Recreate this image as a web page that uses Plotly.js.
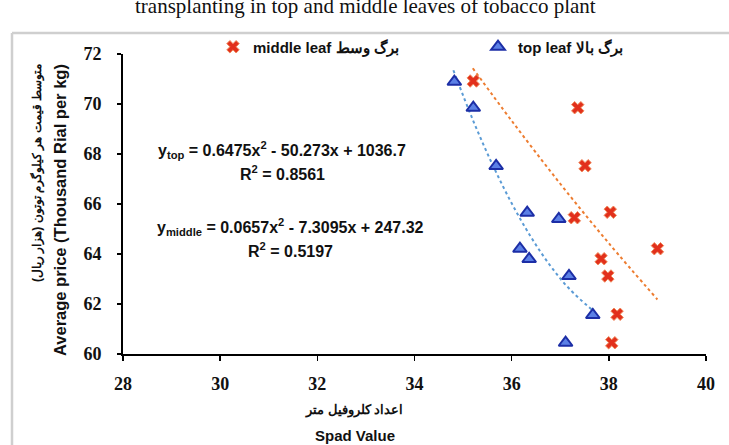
<!DOCTYPE html>
<html>
<head>
<meta charset="utf-8">
<script src="https://cdn.plot.ly/plotly-3.0.1.min.js"></script>
<style>html,body{margin:0;padding:0;background:#fff;}#chart{width:729px;height:445px;}</style>
</head>
<body>
<div id="chart"></div>
<script>
// Top leaf (triangles)
const topSpad  = [34.82, 35.21, 35.68, 36.32, 36.97, 36.17, 36.36, 37.18, 37.67, 37.11];
const topPrice = [70.89, 69.85, 67.52, 65.65, 65.40, 64.21, 63.80, 63.12, 61.56, 60.45];
// Middle leaf (x markers)
const midSpad  = [35.21, 37.36, 37.51, 38.03, 37.29, 39.00, 37.84, 37.98, 38.17, 38.06];
const midPrice = [70.92, 69.85, 67.53, 65.67, 65.45, 64.21, 63.81, 63.12, 61.59, 60.45];
// Polynomial trend lines
const trendTopX = [34.8, 35.2, 35.6, 36.0, 36.4, 36.8, 37.2, 37.67];
const trendTopY = [71.35, 69.37, 67.60, 66.03, 64.67, 63.52, 62.58, 61.74];
const trendMidX = [35.2, 36.0, 37.0, 38.0, 39.0];
const trendMidY = [71.43, 69.33, 66.81, 64.43, 62.18];

const xTicks = [28, 30, 32, 34, 36, 38, 40];
const yTicks = [60, 62, 64, 66, 68, 70, 72];

const legendMid = 'middle leaf برگ وسط';
const legendTop = 'top leaf برگ بالا';
const eqTop = 'y<sub>top</sub> = 0.6475x<sup>2</sup> - 50.273x + 1036.7';
const r2Top = 'R<sup>2</sup> = 0.8561';
const eqMid = 'y<sub>middle</sub> = 0.0657x<sup>2</sup> - 7.3095x + 247.32';
const r2Mid = 'R<sup>2</sup> = 0.5197';
const yTitleFa = 'متوسط قیمت هر کیلوگرم توتون (هزار ریال)';
const yTitleEn = 'Average price (Thousand Rial per kg)';
const xTitleFa = 'اعداد کلروفیل متر';
const xTitleEn = 'Spad Value';
const topTitle = 'transplanting in top and middle leaves of tobacco plant';

const W = 729, H = 445, L = 123, R = 23, T = 54, B = 91;
const pw = W - L - R, ph = H - T - B;
const px = v => (v - L) / pw;
const py = v => (H - B - v) / ph;

const sans = 'Liberation Sans, Arial, sans-serif';
const serif = 'Liberation Serif, Times New Roman, serif';
const txt = (text, x, y, size, extra) => Object.assign({
  text, x: px(x), y: py(y), xref: 'paper', yref: 'paper', xanchor: 'center', yanchor: 'middle',
  showarrow: false, font: {family: sans, size, color: '#111', weight: 'bold'}
}, extra || {});

const traces = [
  {x: trendMidX, y: trendMidY, mode: 'lines', line: {color: '#ed7d31', width: 2, dash: 'dot', shape: 'spline'}, showlegend: false, hoverinfo: 'skip'},
  {x: trendTopX, y: trendTopY, mode: 'lines', line: {color: '#5b9bd5', width: 2, dash: 'dot', shape: 'spline'}, showlegend: false, hoverinfo: 'skip'},
  {x: midSpad, y: midPrice, mode: 'markers', name: legendMid, legend: 'legend',
   marker: {symbol: 'x', size: 11, color: '#e2301c', line: {color: '#f0885a', width: 1}}},
  {x: topSpad, y: topPrice, mode: 'markers', name: legendTop, legend: 'legend2',
   marker: {symbol: 'triangle-up', size: 12, color: '#5b80e6', line: {color: '#1c2ea6', width: 2}}}
];

const ann = [
  txt(eqTop, 282, 150, 16),
  txt(r2Top, 282, 173, 16),
  txt(eqMid, 290, 227, 16),
  txt(r2Mid, 290, 250, 16),
  txt(xTitleFa, 354, 410, 13),
  txt(xTitleEn, 355, 435, 15),
  txt(yTitleFa, 37, 62, 12, {yanchor: 'top', textangle: -90}),
  txt(yTitleEn, 60, 62, 16.5, {yanchor: 'top', textangle: -90}),
  {text: topTitle, x: px(365), y: py(20), xref: 'paper', yref: 'paper', xanchor: 'center', yanchor: 'bottom',
   showarrow: false, font: {family: serif, size: 21, color: '#111'}}
];

const shapes = [
  {type: 'line', xref: 'paper', yref: 'paper', x0: px(12), x1: px(12), y0: py(33), y1: py(450), line: {color: '#cfcfcf', width: 2.5}},
  {type: 'line', xref: 'paper', yref: 'paper', x0: px(12), x1: px(740), y0: py(33), y1: py(33), line: {color: '#cfcfcf', width: 2.5}}
];

const legFont = {family: sans, size: 15, color: '#111', weight: 'bold'};
const layout = {
  width: W, height: H,
  margin: {l: L, r: R, t: T, b: B, pad: 0},
  paper_bgcolor: '#fff', plot_bgcolor: '#fff',
  showlegend: true,
  legend: {orientation: 'h', x: px(213), y: py(47), xanchor: 'left', yanchor: 'middle', font: legFont, bgcolor: 'rgba(0,0,0,0)'},
  legend2: {orientation: 'h', x: px(478), y: py(47), xanchor: 'left', yanchor: 'middle', font: legFont, bgcolor: 'rgba(0,0,0,0)'},
  xaxis: {range: [28, 40], tickvals: xTicks, ticktext: xTicks.map(String), showgrid: false, zeroline: false,
          showline: true, linecolor: '#000', linewidth: 2, ticks: 'outside', ticklen: 5, tickwidth: 1.5, tickcolor: '#000',
          ticklabelstandoff: 7, tickfont: {family: serif, size: 18, color: '#111', weight: 'bold'}},
  yaxis: {range: [60, 72], tickvals: yTicks, ticktext: yTicks.map(String), showgrid: false, zeroline: false,
          showline: true, linecolor: '#000', linewidth: 2, ticks: 'outside', ticklen: 4, tickwidth: 1.5, tickcolor: '#000',
          ticklabelstandoff: 12, tickfont: {family: serif, size: 18, color: '#111', weight: 'bold'}},
  annotations: ann,
  shapes: shapes
};

Plotly.newPlot('chart', traces, layout, {displayModeBar: false, staticPlot: true});
</script>
</body>
</html>
